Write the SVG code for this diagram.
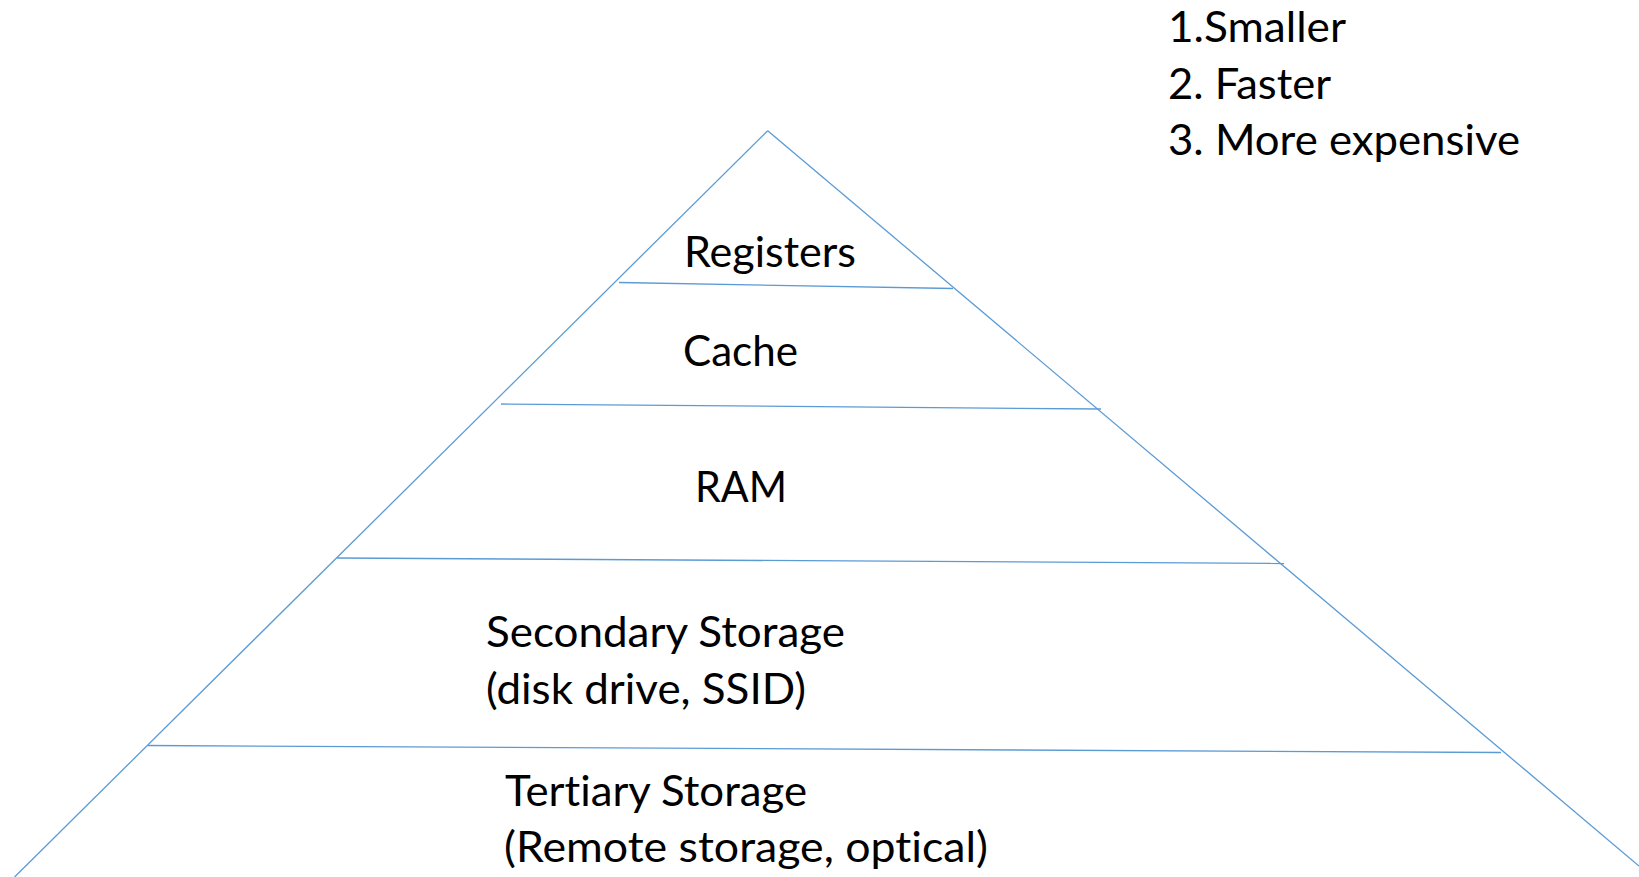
<svg xmlns="http://www.w3.org/2000/svg" width="1639" height="877" viewBox="0 0 1639 877">
  <style>
    .ln { stroke: #5B9BD5; stroke-width: 1.3; fill: none; }
    .t { font-family: Lato, "Open Sans", "Liberation Sans", sans-serif; font-size: 42px; fill: #000000; font-variant-ligatures: none; }
  </style>
  <rect x="0" y="0" width="1639" height="877" fill="#FFFFFF"/>
  <g id="pyramid-lines">
    <line class="ln" x1="767.7" y1="130.7" x2="14.6" y2="877"/>
    <line class="ln" x1="767.7" y1="130.7" x2="1639" y2="866"/>
    <line class="ln" x1="619" y1="282.5" x2="953" y2="288.5"/>
    <line class="ln" x1="501" y1="404" x2="1101" y2="409"/>
    <line class="ln" x1="337" y1="558" x2="1284" y2="563.5"/>
    <line class="ln" x1="148" y1="745.5" x2="1501" y2="752.5"/>
  </g>
  <g id="registers">
    <text class="t" x="684" y="267" textLength="172" lengthAdjust="spacingAndGlyphs">Registers</text>
  </g>
  <g id="cache">
    <text class="t" x="683" y="366" textLength="115" lengthAdjust="spacingAndGlyphs">Cache</text>
  </g>
  <g id="ram">
    <text class="t" x="695" y="502" textLength="92" lengthAdjust="spacingAndGlyphs">RAM</text>
  </g>
  <g id="secondary">
    <text class="t" x="486" y="647" textLength="359" lengthAdjust="spacingAndGlyphs">Secondary Storage</text>
    <text class="t" x="486" y="704" textLength="320" lengthAdjust="spacingAndGlyphs">(disk drive, SSID)</text>
  </g>
  <g id="tertiary">
    <text class="t" x="505" y="806" textLength="302" lengthAdjust="spacingAndGlyphs">Tertiary Storage</text>
    <text class="t" x="504" y="862" textLength="484" lengthAdjust="spacingAndGlyphs">(Remote storage, optical)</text>
  </g>
  <g id="properties">
    <text class="t" x="1168" y="42" textLength="178" lengthAdjust="spacingAndGlyphs">1.Smaller</text>
    <text class="t" x="1168" y="99" textLength="163" lengthAdjust="spacingAndGlyphs">2. Faster</text>
    <text class="t" x="1168" y="155" textLength="352" lengthAdjust="spacingAndGlyphs">3. More expensive</text>
  </g>
</svg>
